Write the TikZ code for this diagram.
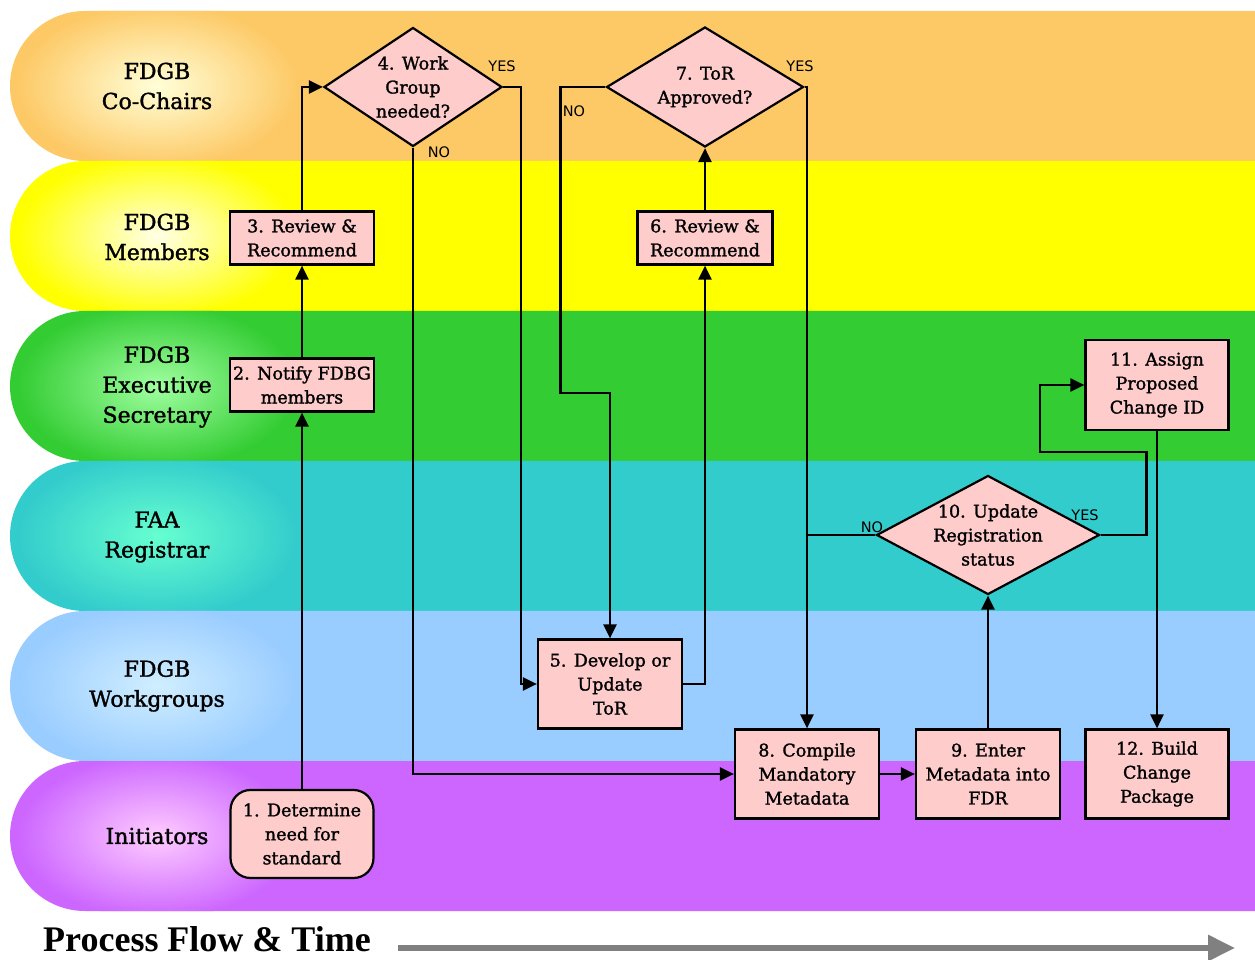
\documentclass[tikz,border=0pt]{standalone}
\usepackage{fontspec}
\setmainfont{DejaVu Serif}[RawFeature={embolden=1.4}]
\newfontfamily\yesnofont{DejaVu Sans}
\newfontfamily\titlefont{Liberation Serif}
\usetikzlibrary{shapes.geometric,arrows.meta}

% lane colours and the lighter glow behind each lane title
\definecolor{laneorange}{HTML}{FDC966}
\definecolor{glowcream}{HTML}{FFFFD8}
\definecolor{laneyellow}{HTML}{FFFF00}
\definecolor{glowyellow}{HTML}{FFFFE6}
\definecolor{lanegreen}{HTML}{33CC33}
\definecolor{glowgreen}{HTML}{A0FFA0}
\definecolor{laneteal}{HTML}{33CCCC}
\definecolor{glowteal}{HTML}{66FFD0}
\definecolor{laneblue}{HTML}{99CCFF}
\definecolor{glowblue}{HTML}{D0EEFF}
\definecolor{lanepurple}{HTML}{CC66FF}
\definecolor{glowpurple}{HTML}{FFCCFF}
\definecolor{pinkfill}{HTML}{FFCCCC}
\definecolor{timegray}{HTML}{808080}

\newcommand{\boxtextfont}{\fontsize{17.5}{24}\selectfont}
\newcommand{\lanetextfont}{\fontsize{22}{30}\selectfont}

% one swim lane: #1 = vertical centre, #2 = lane colour, #3 = glow colour
\newcommand{\swimlane}[3]{%
  \begin{scope}
    \clip (1255,#1+75) -- (85,#1+75) arc[start angle=90,end angle=270,radius=75pt]
          -- (1255,#1-75) -- cycle;
    \fill[#2] (0,#1-80) rectangle (1255,#1+80);
    \shade[inner color=#3, outer color=#2] (157,#1) ellipse[x radius=140pt, y radius=82pt];
  \end{scope}}

\tikzset{
  stepbox/.style={draw=black, line width=2.2pt, fill=pinkfill, align=center,
    inner sep=2pt, minimum width=144pt, minimum height=53pt, font=\boxtextfont},
  startbox/.style={stepbox, rounded corners=20pt, minimum width=143pt, minimum height=88pt},
  decision/.style={diamond, draw=black, line width=2.2pt, fill=pinkfill, inner sep=0pt},
  dectext/.style={align=center, font=\boxtextfont},
  lanetitle/.style={align=center, font=\lanetextfont},
  answer/.style={font=\yesnofont\fontsize{14.5}{16}\selectfont, inner sep=0pt},
  flow/.style={line width=2.4pt, -{Triangle[length=14pt,width=13pt]}},
  plainline/.style={line width=2.4pt},
}

\begin{document}
\begin{tikzpicture}[x=1pt,y=1pt]
\useasboundingbox (0,0) rectangle (1255,959);

% swim lanes
\swimlane{873}{laneorange}{glowcream}
\swimlane{723}{laneyellow}{glowyellow}
\swimlane{573}{lanegreen}{glowgreen}
\swimlane{423}{laneteal}{glowteal}
\swimlane{273}{laneblue}{glowblue}
\swimlane{123}{lanepurple}{glowpurple}

% lane titles
\node[lanetitle] (t1) at (157,873) {FDGB\\Co-Chairs};
\node[lanetitle] (t2) at (157,722) {FDGB\\Members};
\node[lanetitle] (t3) at (157,572) {FDGB\\Executive\\Secretary};
\node[lanetitle] (t4) at (157,422) {FAA\\Registrar};
\node[lanetitle] (t5) at (157,273) {FDGB\\Workgroups};
\node[lanetitle] (t6) at (157,123) {Initiators};

% process steps
\node[startbox] (n1) at (302,125) {1. Determine\\need for\\standard};
\node[stepbox] (n2) at (302,574) {2. Notify FDBG\\members};
\node[stepbox] (n3) at (302,721) {3. Review \&\\Recommend};
\node[decision, minimum width=178pt, minimum height=119pt] (d4) at (413,872) {};
\node[dectext] (d4t) at (d4.center) {4. Work\\Group\\needed?};
\node[stepbox, minimum height=89pt] (n5) at (610,275) {5. Develop or\\Update\\ToR};
\node[stepbox, minimum width=135pt] (n6) at (705,721) {6. Review \&\\Recommend};
\node[decision, minimum width=197pt, minimum height=120pt] (d7) at (705,872) {};
\node[dectext] (d7t) at (d7.center) {7. ToR\\Approved?};
\node[stepbox, minimum height=89pt] (n8) at (807,185) {8. Compile\\Mandatory\\Metadata};
\node[stepbox, minimum height=89pt] (n9) at (988,185) {9. Enter\\Metadata into\\FDR};
\node[decision, minimum width=223pt, minimum height=119pt] (d10) at (988,424) {};
\node[dectext] (d10t) at (d10.center) {10. Update\\Registration\\status};
\node[stepbox, minimum width=143pt, minimum height=90pt] (n11) at (1157,574) {11. Assign\\Proposed\\Change ID};
\node[stepbox, minimum width=143pt, minimum height=89pt] (n12) at (1157,185) {12. Build\\Change\\Package};

% bend points of the longer connectors
\coordinate (j7) at (610,566);
\coordinate (j10) at (1040,507);

% connectors
\draw[flow] (n1.north) -- (n2.south);
\draw[flow] (n2.north) -- (n3.south);
\draw[flow] (n3.north) |- (d4.west);
\draw[flow] (d4.east) -- ++(18,0) |- (n5.west);
\draw[flow] (d4.south) |- (n8.west);
\draw[flow] (n5.east) -| (n6.south);
\draw[flow] (n6.north) -- (d7.south);
\draw[flow] (d7.west) -- ++(-45,0) |- (j7) -- (n5.north);
\draw[flow] (d7.east) -| (n8.north);
\draw[flow] (n8.east) -- (n9.west);
\draw[flow] (n9.north) -- (d10.south);
\draw[plainline] (d10.west) -- (d10.west -| n8.north);
\draw[flow] (d10.east) -- ++(46,0) |- (j10) |- (n11.west);
\draw[flow] (n11.south) -- (n12.north);

% branch answers
\node[answer] (a4y) at (502,893) {YES};
\node[answer] (a4n) at (439,807) {NO};
\node[answer] (a7n) at (574,848) {NO};
\node[answer] (a7y) at (800,893) {YES};
\node[answer] (a10n) at (872,432) {NO};
\node[answer] (a10y) at (1085,444) {YES};

% time axis
\node[anchor=base west, inner sep=0pt, font=\titlefont\bfseries\fontsize{36}{40}\selectfont]
  (axis) at (43,8) {Process Flow \& Time};
\coordinate (axisend) at (1235,11);
\draw[timegray, line width=6pt, -{Triangle[length=27pt,width=25pt]}] (398,11) -- (axisend);
\end{tikzpicture}
\end{document}
